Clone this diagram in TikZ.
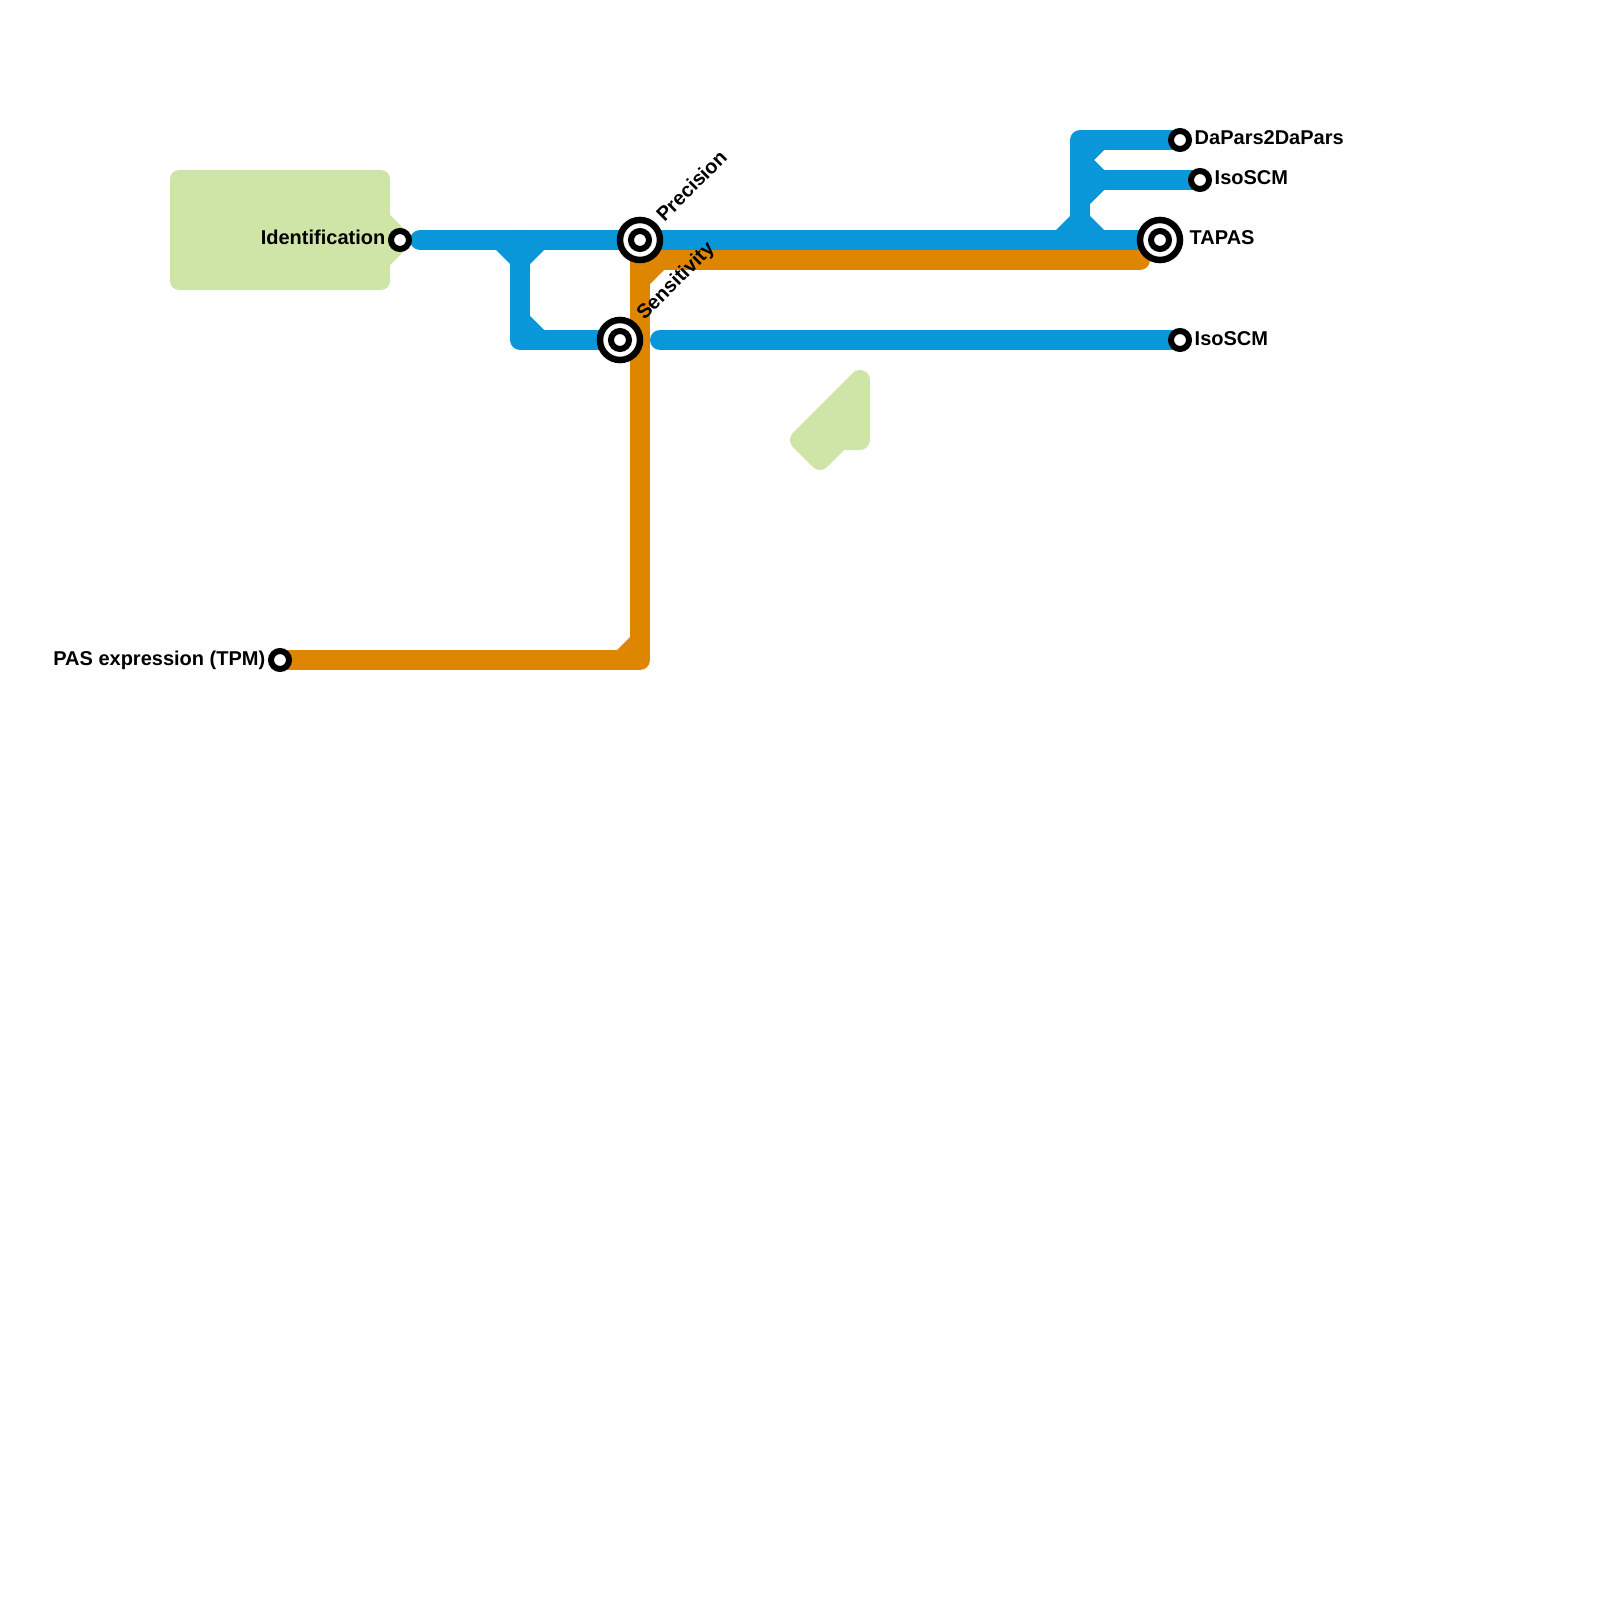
\documentclass[tikz,border=0pt]{standalone}
\usepackage{fontspec}
\setmainfont{Liberation Sans}
\usetikzlibrary{backgrounds}

\definecolor{lineblue}{HTML}{0997D9}
\definecolor{lineorange}{HTML}{DF8600}
\definecolor{areagreen}{HTML}{CFE4A7}

\tikzset{
    station/.style={circle,draw=black,fill=white,line width=0.06cm,inner sep=0pt,minimum size=0.18cm},
    hub/.style={circle,draw=black,fill=white,line width=0.065cm,inner sep=0pt,minimum size=0.40cm,
        path picture={\draw[black,line width=0.06cm] (path picture bounding box.center) circle (0.09cm);}},
    stoplabel/.style={font=\fontsize{5.69pt}{7pt}\selectfont\bfseries,inner sep=0pt,anchor=base west},
    route/.style={line width=0.2cm,line cap=round,line join=round},
    fillet/.style={fill=lineblue},
}

\begin{document}
\begin{tikzpicture}[x=0.01cm,y=-0.01cm]
    \useasboundingbox (0,0) rectangle (1600,1600);

    % === Stations ===
    \node[station] (identification) at (400,240) {};
    \node[station] (paspoint) at (280,660) {};
    \node[hub] (precision) at (640,240) {};
    \node[hub] (sensitivity) at (620,340) {};
    \node[hub] (tapas) at (1160,240) {};
    \node[station] (dapars) at (1180,140) {};
    \node[station] (isoupper) at (1200,180) {};
    \node[station] (isolower) at (1180,340) {};

    % Free ends and bends of the lines
    \coordinate (bluestart) at (420,240);
    \coordinate (splitleft) at (520,240);
    \coordinate (bendleft) at (520,340);
    \coordinate (bluerestart) at (660,340);
    \coordinate (splitright) at (1080,240);
    \coordinate (splitmid) at (1080,180);
    \coordinate (bendtop) at (1080,140);
    \coordinate (orangetop) at (640,260);
    \coordinate (orangebottom) at (640,660);
    \coordinate (orangeend) at (1140,260);

    % === Labels ===
    \node[stoplabel,anchor=base east] (identificationlabel) at (386,245) {Identification};
    \node[stoplabel,anchor=base east] (paslabel) at (266,665) {PAS expression (TPM)};
    \node[stoplabel,rotate=45] (precisionlabel) at (664,223) {Precision};
    \node[stoplabel,rotate=45] (sensitivitylabel) at (644,321) {Sensitivity};
    \node[stoplabel] (tapaslabel) at (1189,245) {TAPAS};
    \node[stoplabel] (daparslabel) at (1194,145) {DaPars2DaPars};
    \node[stoplabel] (isoupperlabel) at (1214,185) {IsoSCM};
    \node[stoplabel] (isolowerlabel) at (1194,345) {IsoSCM};

    \begin{pgfonlayer}{background}
        % Green areas
        \fill[areagreen,rounded corners=0.09cm] (170,170) rectangle (390,290);
        \fill[areagreen] (385,210) -- (410,235) -- (410,245) -- (385,270) -- cycle;
        \filldraw[areagreen,route] (800,440) -- (860,380) -- (860,440) -- (840,440) -- (820,460) -- cycle;

        % Blue lines
        \draw[lineblue,route] (bluestart) -- (precision.center) -- (tapas.center);
        \draw[lineblue,route] (splitleft) -- (bendleft) -- (sensitivity.center);
        \draw[lineblue,route] (bluerestart) -- (isolower.center);
        \draw[lineblue,route] (splitright) -- (bendtop) -- (dapars.center);
        \draw[lineblue,route] (splitmid) -- (isoupper.center);

        % Fillets on the blue lines
        \fill[fillet] (496,250) -- (510,264) -- (530,264) -- (544,250) -- cycle;
        \fill[fillet] (530,316) -- (544,330) -- (530,330) -- cycle;
        \fill[fillet] (1056,230) -- (1070,216) -- (1090,216) -- (1104,230) -- cycle;
        \fill[fillet] (1090,204) -- (1104,190) -- (1090,190) -- cycle;
        \fill[fillet] (1090,150) -- (1104,150) -- (1094,160) -- (1104,170) -- (1090,170) -- cycle;

        % Orange line
        \draw[lineorange,route] (paspoint.center) -- (orangebottom) -- (orangetop) -- (orangeend);
        \fill[lineorange] (617,650) -- (630,637) -- (630,650) -- cycle;
        \fill[lineorange] (650,284) -- (664,270) -- (650,270) -- cycle;
    \end{pgfonlayer}
\end{tikzpicture}
\end{document}
